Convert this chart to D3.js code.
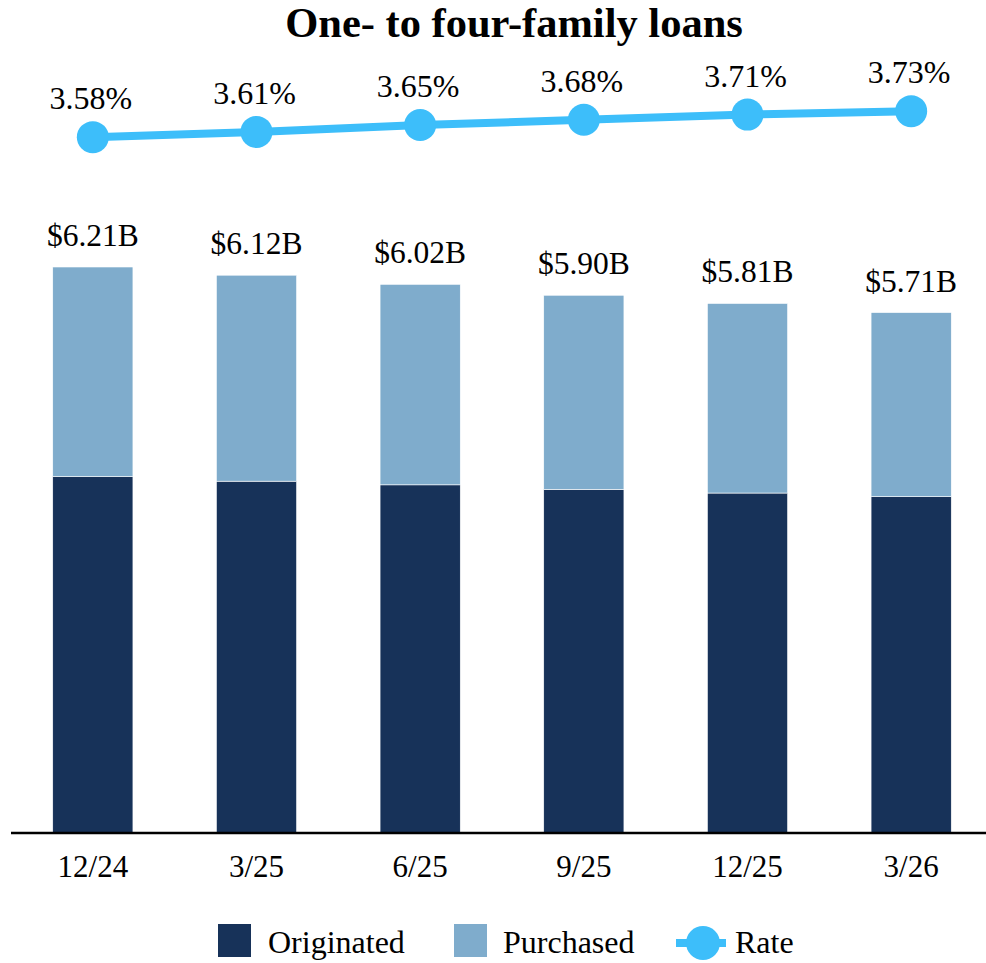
<!DOCTYPE html>
<html>
<head>
<meta charset="utf-8">
<script src="https://cdn.jsdelivr.net/npm/d3@7"></script>
<style>
  html, body { margin: 0; padding: 0; background: #fff; }
  svg { display: block; }
  text { font-family: "Liberation Serif", "Times New Roman", serif; fill: #000; }
</style>
</head>
<body>
<svg id="chart" width="986" height="963"></svg>
<script>
const categories = ["12/24", "3/25", "6/25", "9/25", "12/25", "3/26"];
const originated = [3.91, 3.86, 3.82, 3.77, 3.73, 3.69];
const purchased  = [2.30, 2.26, 2.20, 2.13, 2.08, 2.02];
const totalLabels = ["$6.21B", "$6.12B", "$6.02B", "$5.90B", "$5.81B", "$5.71B"];
const rates = [3.58, 3.61, 3.65, 3.68, 3.71, 3.73];
const rateLabels = ["3.58%", "3.61%", "3.65%", "3.68%", "3.71%", "3.73%"];
const seriesNames = ["Originated", "Purchased", "Rate"];
const colors = { Originated: "#173259", Purchased: "#7FACCC", Rate: "#3DBEFA" };

const svg = d3.select("#chart");

const x = d3.scaleBand().domain(categories).range([11, 993]).paddingInner(0.51).paddingOuter(0.255);
const y = d3.scaleLinear().domain([0, 7]).range([833, 195]);
const yr = d3.scaleLinear().domain([3.5, 3.8]).range([151, 99]);

// Title
svg.append("text")
  .attr("x", 514).attr("y", 37)
  .attr("text-anchor", "middle")
  .style("font-size", "42.5px").style("font-weight", "bold")
  .text("One- to four-family loans");

// Stacked bars
const rows = categories.map((c, i) => ({ cat: c, Originated: originated[i], Purchased: purchased[i] }));
const stack = d3.stack().keys(["Originated", "Purchased"])(rows);
svg.append("g").selectAll("g").data(stack).join("g")
  .attr("fill", d => colors[d.key])
  .selectAll("rect").data(d => d).join("rect")
  .attr("x", d => x(d.data.cat))
  .attr("width", x.bandwidth())
  .attr("y", d => y(d[1]))
  .attr("height", d => y(d[0]) - y(d[1]))
  .attr("stroke", "#ffffff").attr("stroke-width", 0.6);

// Total labels
svg.append("g").selectAll("text").data(rows).join("text")
  .attr("x", d => x(d.cat) + x.bandwidth() / 2)
  .attr("y", (d, i) => y(originated[i] + purchased[i]) - 21)
  .attr("text-anchor", "middle")
  .style("font-size", "31.5px")
  .text((d, i) => totalLabels[i]);

// Axis
const axis = d3.axisBottom(x).tickSize(0).tickPadding(0);
const ag = svg.append("g").attr("transform", "translate(0,833)").call(axis);
ag.select(".domain").remove();
ag.selectAll("text")
  .attr("dy", null).attr("y", 44)
  .style("font-size", "31px")
  .style("font-family", '"Liberation Serif", "Times New Roman", serif')
  .attr("fill", "#000");
svg.append("line")
  .attr("x1", 11).attr("x2", 986).attr("y1", 833).attr("y2", 833)
  .attr("stroke", "#000").attr("stroke-width", 2.5);

// Rate line
const cx = (d, i) => x(categories[i]) + x.bandwidth() / 2;
const line = d3.line().x((d, i) => cx(d, i)).y(d => yr(d));
svg.append("path").datum(rates)
  .attr("d", line).attr("fill", "none")
  .attr("stroke", colors.Rate).attr("stroke-width", 8);
svg.append("g").selectAll("circle").data(rates).join("circle")
  .attr("cx", cx).attr("cy", d => yr(d)).attr("r", 16)
  .attr("fill", colors.Rate);
svg.append("g").selectAll("text").data(rates).join("text")
  .attr("x", (d, i) => cx(d, i) - 2)
  .attr("y", d => yr(d) - 28)
  .attr("text-anchor", "middle")
  .style("font-size", "32px")
  .text((d, i) => rateLabels[i]);

// Legend
const legend = svg.append("g");
const lg1 = legend.append("g").attr("transform", "translate(218,924)");
lg1.append("rect").attr("width", 33).attr("height", 33).attr("fill", colors.Originated);
lg1.append("text").attr("x", 50).attr("y", 29).style("font-size", "32px").text(seriesNames[0]);
const lg2 = legend.append("g").attr("transform", "translate(454,924)");
lg2.append("rect").attr("width", 33).attr("height", 33).attr("fill", colors.Purchased);
lg2.append("text").attr("x", 49).attr("y", 29).style("font-size", "32px").text(seriesNames[1]);
const lg3 = legend.append("g").attr("transform", "translate(676,943)");
lg3.append("line").attr("x1", 0).attr("x2", 50).attr("y1", 0).attr("y2", 0)
  .attr("stroke", colors.Rate).attr("stroke-width", 8);
lg3.append("circle").attr("cx", 27).attr("cy", 0).attr("r", 17).attr("fill", colors.Rate);
lg3.append("text").attr("x", 59).attr("y", 10).style("font-size", "32px").text(seriesNames[2]);
</script>
</body>
</html>
